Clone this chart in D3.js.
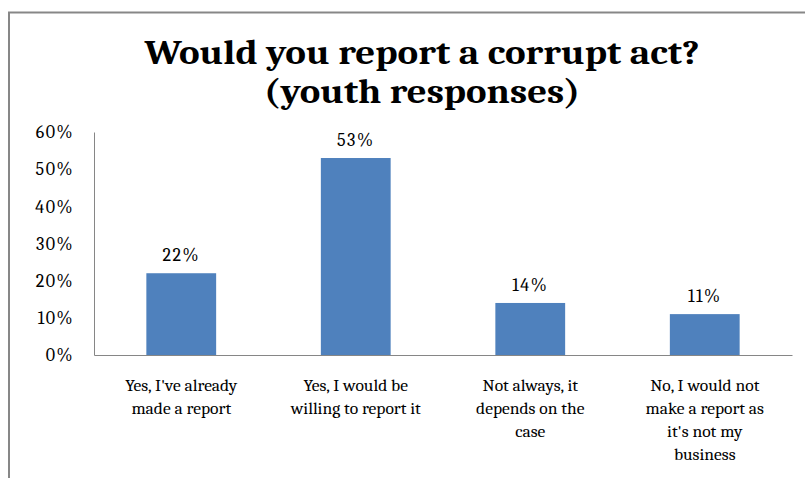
<!DOCTYPE html>
<html>
<head>
<meta charset="utf-8">
<script src="https://cdn.jsdelivr.net/npm/d3@7"></script>
<style>
  html, body { margin: 0; padding: 0; background: #fff; }
  svg { display: block; }
</style>
</head>
<body>
<svg id="chart" width="805" height="478"></svg>
<script>
// Survey answers, one line of text per array entry as shown under the axis
const categories = [
  ["Yes, I've already", "made a report"],
  ["Yes, I would be", "willing to report it"],
  ["Not always, it", "depends on the", "case"],
  ["No, I would not", "make a report as", "it's not my", "business"]
];
const values = [0.22, 0.53, 0.14, 0.11];
const yTicks = [0, 0.1, 0.2, 0.3, 0.4, 0.5, 0.6];
const titleLines = ["Would you report a corrupt act?", "(youth responses)"];

const svg = d3.select("#chart");
const serif = "Cambria, 'Liberation Serif', 'DejaVu Serif', serif";
const pct = d3.format(".0%");

// frame of the chart area
svg.append("path")
  .attr("d", "M9,478 V12.5 H805")
  .attr("fill", "none")
  .attr("stroke", "#878787")
  .attr("stroke-width", 2);

const plot = { left: 94, right: 792, top: 132, bottom: 355 };

const x = d3.scaleBand()
  .domain(d3.range(categories.length))
  .range([plot.left, plot.right])
  .paddingInner(0.6)
  .paddingOuter(0.3);

const y = d3.scaleLinear()
  .domain([0, 0.6])
  .range([plot.bottom, plot.top]);

// title, two centred lines squeezed to their set widths
const titleWidths = [555, 316];
const titleBase = [64, 103];
svg.append("g").selectAll("text")
  .data(titleLines)
  .join("text")
  .attr("x", 422)
  .attr("y", (d, i) => titleBase[i])
  .attr("text-anchor", "middle")
  .attr("font-family", serif)
  .attr("font-weight", "bold")
  .attr("font-size", 34)
  .attr("fill", "#000")
  .attr("textLength", (d, i) => titleWidths[i])
  .attr("lengthAdjust", "spacingAndGlyphs")
  .text(d => d);

// y axis
const yAxis = d3.axisLeft(y)
  .tickValues(yTicks)
  .tickFormat(pct)
  .tickSize(0)
  .tickPadding(20);

const gy = svg.append("g")
  .attr("transform", `translate(${plot.left},0)`)
  .call(yAxis);
gy.select(".domain").attr("stroke", "#868686").attr("stroke-width", 1);
gy.selectAll("text")
  .attr("font-family", serif)
  .attr("font-size", 18)
  .attr("letter-spacing", 1.5)
  .attr("fill", "#000");

// x axis baseline
const xAxis = d3.axisBottom(x).tickSize(0).tickFormat("");
const gx = svg.append("g")
  .attr("transform", `translate(0,${plot.bottom})`)
  .call(xAxis);
gx.select(".domain").attr("stroke", "#868686").attr("stroke-width", 1);

// bars
svg.append("g").selectAll("rect")
  .data(values)
  .join("rect")
  .attr("x", (d, i) => x(i))
  .attr("width", x.bandwidth())
  .attr("y", d => y(d))
  .attr("height", d => y(0) - y(d))
  .attr("fill", "#4F81BD");

// value labels
svg.append("g").selectAll("text")
  .data(values)
  .join("text")
  .attr("x", (d, i) => x(i) + x.bandwidth() / 2)
  .attr("y", d => y(d) - 12)
  .attr("text-anchor", "middle")
  .attr("font-family", serif)
  .attr("font-size", 18)
  .attr("letter-spacing", 1.5)
  .attr("fill", "#000")
  .text(d => pct(d));

// category labels
const cat = svg.append("g").selectAll("text")
  .data(categories)
  .join("text")
  .attr("text-anchor", "middle")
  .attr("font-family", serif)
  .attr("font-size", 17.5)
  .attr("fill", "#000");
cat.each(function (lines, i) {
  const t = d3.select(this);
  lines.forEach((line, j) => {
    t.append("tspan")
      .attr("x", x(i) + x.bandwidth() / 2)
      .attr("y", 391 + j * 23)
      .text(line);
  });
});
</script>
</body>
</html>
